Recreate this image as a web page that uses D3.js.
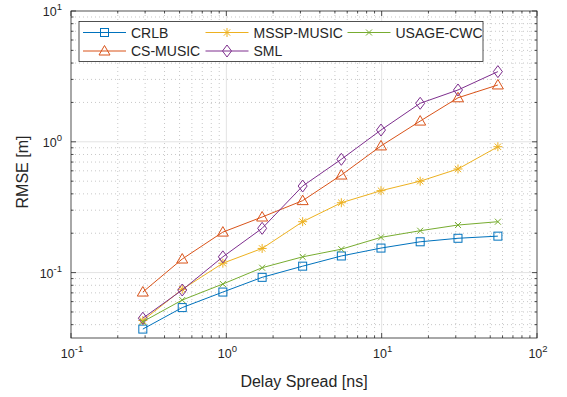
<!DOCTYPE html>
<html>
<head>
<meta charset="utf-8">
<script src="https://cdn.jsdelivr.net/npm/d3@7"></script>
<style>
  body { margin: 0; background: #fff; }
  text { font-family: "Liberation Sans", Arial, Helvetica, sans-serif; fill: #262626; }
</style>
</head>
<body>
<svg id="chart" width="567" height="397"></svg>
<script>
// delay spread values (ns)
const delaySpread = [0.29, 0.52, 0.95, 1.7, 3.1, 5.5, 9.9, 17.7, 31, 56];

// RMSE per method (m)
const crlb = [0.037, 0.054, 0.071, 0.092, 0.112, 0.134, 0.154, 0.172, 0.183, 0.19];
const csMusic = [0.071, 0.127, 0.204, 0.266, 0.355, 0.557, 0.93, 1.44, 2.17, 2.72];
const msspMusic = [0.043, 0.0745, 0.118, 0.153, 0.245, 0.342, 0.423, 0.5, 0.62, 0.917];
const sml = [0.0448, 0.0736, 0.132, 0.218, 0.459, 0.735, 1.23, 1.97, 2.49, 3.44];
const usageCwc = [0.0421, 0.0617, 0.0818, 0.109, 0.132, 0.151, 0.186, 0.209, 0.231, 0.245];

const seriesNames = ['CRLB', 'CS-MUSIC', 'MSSP-MUSIC', 'SML', 'USAGE-CWC'];
const seriesValues = [crlb, csMusic, msspMusic, sml, usageCwc];
const seriesColors = ['#0072BD', '#D95319', '#EDB120', '#7E2F8E', '#77AC30'];
const seriesMarkers = ['square', 'triangle', 'star', 'diamond', 'cross'];

const xTickExps = [-1, 0, 1, 2];
const yTickExps = [-1, 0, 1];

const margin = { left: 71, right: 30, top: 11, bottom: 59 };
const width = 567, height = 397;

const svg = d3.select('#chart');

const x = d3.scaleLog()
    .domain([0.1, 100])
    .range([margin.left, width - margin.right]);

const y = d3.scaleLog()
    .domain([Math.pow(10, -1.5), 10])
    .range([height - margin.bottom, margin.top]);

const [x0, x1] = x.range();
const [y0, y1] = y.range();

// minor values for grid / ticks
const minorVals = (lo, hi) => {
  const out = [];
  for (let e = lo; e < hi; e++) {
    for (let m = 2; m <= 9; m++) out.push(m * Math.pow(10, e));
  }
  return out;
};
const xMinor = minorVals(-1, 2);
const yMinor = minorVals(-2, 1).filter(v => v >= y.domain()[0] && v <= 10);
const xMajor = xTickExps.map(e => Math.pow(10, e));
const yMajor = yTickExps.map(e => Math.pow(10, e));

// grid
const grid = svg.append('g');
grid.selectAll('.xminor')
    .data(xMinor)
    .join('line')
    .attr('x1', d => x(d)).attr('x2', d => x(d))
    .attr('y1', y1).attr('y2', y0)
    .attr('stroke', '#c8c8c8')
    .attr('stroke-dasharray', '1,3');
grid.selectAll('.yminor')
    .data(yMinor)
    .join('line')
    .attr('y1', d => y(d)).attr('y2', d => y(d))
    .attr('x1', x0).attr('x2', x1)
    .attr('stroke', '#c8c8c8')
    .attr('stroke-dasharray', '1,3');
grid.selectAll('.xmajor')
    .data(xMajor.slice(1, -1))
    .join('line')
    .attr('x1', d => x(d)).attr('x2', d => x(d))
    .attr('y1', y1).attr('y2', y0)
    .attr('stroke', '#e3e3e3');
grid.selectAll('.ymajor')
    .data(yMajor.slice(0, -1))
    .join('line')
    .attr('y1', d => y(d)).attr('y2', d => y(d))
    .attr('x1', x0).attr('x2', x1)
    .attr('stroke', '#e3e3e3');

// ticks on all four sides, pointing in
const ticks = svg.append('g').attr('stroke', '#262626').attr('stroke-width', 0.8);
const addXTicks = (vals, len) => {
  ticks.selectAll(null).data(vals).join('line')
      .attr('x1', d => x(d)).attr('x2', d => x(d))
      .attr('y1', y0).attr('y2', y0 - len);
  ticks.selectAll(null).data(vals).join('line')
      .attr('x1', d => x(d)).attr('x2', d => x(d))
      .attr('y1', y1).attr('y2', y1 + len);
};
const addYTicks = (vals, len) => {
  ticks.selectAll(null).data(vals).join('line')
      .attr('y1', d => y(d)).attr('y2', d => y(d))
      .attr('x1', x0).attr('x2', x0 + len);
  ticks.selectAll(null).data(vals).join('line')
      .attr('y1', d => y(d)).attr('y2', d => y(d))
      .attr('x1', x1).attr('x2', x1 - len);
};
addXTicks(xMajor, 5);
addXTicks(xMinor, 2.5);
addYTicks(yMajor, 5);
addYTicks(yMinor, 2.5);

// tick labels 10^n
const powLabel = (sel, exp) => {
  sel.text('10');
  sel.append('tspan')
      .attr('dy', -6)
      .attr('font-size', 9.5)
      .text(exp);
};

svg.append('g').selectAll('text')
    .data(xTickExps)
    .join('text')
    .attr('x', d => x(Math.pow(10, d)) + 1)
    .attr('y', y0 + 20)
    .attr('text-anchor', 'middle')
    .attr('font-size', 12.5)
    .each(function (d) { powLabel(d3.select(this), d); });

svg.append('g').selectAll('text')
    .data(yTickExps)
    .join('text')
    .attr('x', x0 - 9)
    .attr('y', d => y(Math.pow(10, d)) + 5)
    .attr('text-anchor', 'end')
    .attr('font-size', 12.5)
    .each(function (d) { powLabel(d3.select(this), d); });

// axis titles
svg.append('text')
    .attr('x', (x0 + x1) / 2)
    .attr('y', 387)
    .attr('text-anchor', 'middle')
    .attr('font-size', 16)
    .text('Delay Spread [ns]');

svg.append('text')
    .attr('transform', `translate(28,172) rotate(-90)`)
    .attr('text-anchor', 'middle')
    .attr('font-size', 16)
    .text('RMSE [m]');

// markers
const drawMarker = (g, type, color, cx, cy) => {
  if (type === 'square') {
    g.append('rect')
        .attr('x', cx - 4).attr('y', cy - 4)
        .attr('width', 8).attr('height', 8)
        .attr('fill', 'none').attr('stroke', color);
  } else if (type === 'triangle') {
    g.append('path')
        .attr('d', `M${cx},${cy - 5.5}L${cx + 5.5},${cy + 4}L${cx - 5.5},${cy + 4}Z`)
        .attr('fill', 'none').attr('stroke', color);
  } else if (type === 'diamond') {
    g.append('path')
        .attr('d', `M${cx},${cy - 6}L${cx + 4.5},${cy}L${cx},${cy + 6}L${cx - 4.5},${cy}Z`)
        .attr('fill', 'none').attr('stroke', color);
  } else if (type === 'star') {
    const r = 4.5, q = 3.2;
    g.append('path')
        .attr('d', `M${cx - r},${cy}L${cx + r},${cy}M${cx},${cy - r}L${cx},${cy + r}` +
          `M${cx - q},${cy - q}L${cx + q},${cy + q}M${cx - q},${cy + q}L${cx + q},${cy - q}`)
        .attr('fill', 'none').attr('stroke', color);
  } else if (type === 'cross') {
    const q = 3;
    g.append('path')
        .attr('d', `M${cx - q},${cy - q}L${cx + q},${cy + q}M${cx - q},${cy + q}L${cx + q},${cy - q}`)
        .attr('fill', 'none').attr('stroke', color);
  }
};

const line = d3.line()
    .x(d => x(d[0]))
    .y(d => y(d[1]));

seriesValues.forEach((vals, i) => {
  const pts = delaySpread.map((d, j) => [d, vals[j]]);
  const g = svg.append('g');
  g.append('path')
      .datum(pts)
      .attr('d', line)
      .attr('fill', 'none')
      .attr('stroke', seriesColors[i])
      .attr('stroke-width', 1);
  pts.forEach(p => drawMarker(g, seriesMarkers[i], seriesColors[i], x(p[0]), y(p[1])));
});

// axes box
svg.append('rect')
    .attr('x', x0).attr('y', y1)
    .attr('width', x1 - x0).attr('height', y0 - y1)
    .attr('fill', 'none')
    .attr('stroke', '#262626')
    .attr('stroke-width', 0.8);

// legend (3 columns, filled column-wise)
const legendCols = [83, 205.5, 347.5];
const legendRows = [32.5, 51];
const legend = svg.append('g');
legend.append('rect')
    .attr('x', 79).attr('y', 21.5)
    .attr('width', 404).attr('height', 40)
    .attr('fill', '#fff')
    .attr('stroke', '#262626')
    .attr('stroke-width', 0.8);

seriesNames.forEach((name, i) => {
  const lx = legendCols[Math.floor(i / 2)];
  const ly = legendRows[i % 2];
  legend.append('line')
      .attr('x1', lx).attr('x2', lx + 43)
      .attr('y1', ly).attr('y2', ly)
      .attr('stroke', seriesColors[i]);
  drawMarker(legend, seriesMarkers[i], seriesColors[i], lx + 21.5, ly);
  legend.append('text')
      .attr('x', lx + 48)
      .attr('y', ly + 5)
      .attr('font-size', 14)
      .text(name);
});
</script>
</body>
</html>
